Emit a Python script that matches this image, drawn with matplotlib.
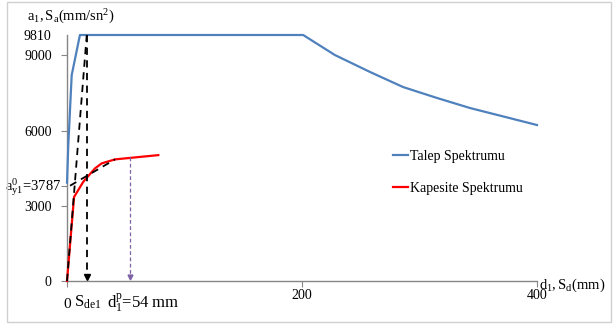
"""
Capacity vs demand spectrum (ADRS format) with bilinear idealization
"""

import matplotlib.pyplot as plt
from matplotlib.patches import Rectangle

# ----------------------------------------------------------
# Data
# ----------------------------------------------------------
talep_x = [0, 1.1, 4, 11, 201, 228, 258, 286, 315, 343, 400]
talep_y = [3920, 5420, 8210, 9810, 9810, 9011, 8333, 7735, 7297, 6898, 6220]

kapasite_x = [0, 6.0, 13.9, 23.8, 29.5, 40.9, 77.7]
kapasite_y = [0, 3350, 3960, 4490, 4690, 4850, 5020]

# bilinear idealization
elastic_x = [0, 16.8]
elastic_y = [0, 9810]
plastic_x = [2.6, 40.9]
plastic_y = [3800, 4850]

sde1 = 16.8          # mm
sa_max = 9810
dp1 = 54             # mm
dp1_sa = 4940
ay1 = 3787

yticks = [0, 3000, ay1, 6000, 9000, sa_max]
ytick_labels = ['0', '3000', '', '6000', '9000', '9810']
xticks = [0, 200, 400]

blue = '#4F81BD'
red = '#FF0000'
purple = '#7E62A6'
gray = '#868686'

plt.rcParams['font.family'] = ['Liberation Serif', 'DejaVu Serif']
plt.rcParams['mathtext.fontset'] = 'stix'

# ----------------------------------------------------------
# Figure
# ----------------------------------------------------------
fig = plt.figure(figsize=(6.13, 3.29), dpi=100)
fig.patches.append(Rectangle((7 / 613, 1 - 322 / 329), 604 / 613, 320 / 329,
                             transform=fig.transFigure, fill=False,
                             edgecolor='#D0D0D0', linewidth=1))

ax = fig.add_axes([67 / 613, 1 - 281 / 329, 470 / 613, 246 / 329])

ax.plot(talep_x, talep_y, color=blue, lw=1.6, label='Talep Spektrumu',
        clip_on=False, zorder=3)
ax.plot(kapasite_x, kapasite_y, color=red, lw=1.6, label='Kapesite Spektrumu',
        clip_on=False, zorder=3)

ax.plot(elastic_x, elastic_y, color='black', lw=1.3, ls=(0, (4, 3)), zorder=4,
        clip_on=False)
ax.plot(plastic_x, plastic_y, color='black', lw=1.3, ls=(0, (4, 3)), zorder=4)
ax.plot([sde1, sde1], [sa_max, 150], color='black', lw=1.3, ls=(0, (4, 3)),
        zorder=4, clip_on=False)
ax.plot(sde1, 150, marker='v', color='black', ms=4, zorder=5)

ax.plot([dp1, dp1], [dp1_sa, 150], color=purple, lw=0.9, ls=(0, (3, 2)), zorder=4)
ax.plot(dp1, 150, marker='v', color=purple, ms=3.5, zorder=5)

ax.set_xlim(0, 400)
ax.set_ylim(0, sa_max)

for side in ['top', 'right']:
    ax.spines[side].set_visible(False)
for side in ['left', 'bottom']:
    ax.spines[side].set_color(gray)
    ax.spines[side].set_linewidth(1)

ax.set_yticks(yticks)
ax.set_yticklabels(ytick_labels)
ax.set_xticks(xticks)
ax.set_xticklabels(['', '200', '400'])
ax.tick_params(axis='y', direction='out', length=4, color=gray, pad=7,
               labelsize=10)
ax.tick_params(axis='x', direction='out', length=4, color=gray, pad=2,
               labelsize=10)
ax.yaxis.get_major_ticks()[-1].tick1line.set_visible(False)

# yield acceleration label, closer to the axis than the other tick labels
ax.annotate(r'$\mathregular{a^0_{y1}}$=3787', xy=(0, ay1), xytext=(-4, -1),
            textcoords='offset points', ha='right', va='center', fontsize=10.5)

# extra labels along the x-axis
ax.annotate('0', xy=(0, 0), xytext=(0, -12), textcoords='offset points',
            ha='center', va='top', fontsize=11)
ax.annotate(r'$\mathregular{S_{de1}}$', xy=(sde1, 0), xytext=(1, -9),
            textcoords='offset points', ha='center', va='top', fontsize=12)
ax.annotate(r'$\mathregular{d^p_1}$=54 mm', xy=(dp1, 0), xytext=(9, -7),
            textcoords='offset points', ha='center', va='top', fontsize=12)

# axis titles
fig.text(27 / 613, 1 - 17 / 329, r'$\mathregular{a_1, S_a(mm/sn^2)}$',
         ha='left', va='center', fontsize=10.5)
fig.text(539 / 613, 1 - 285 / 329, r'$\mathregular{d_1, S_d(mm)}$',
         ha='left', va='center', fontsize=10.5)

ax.legend(loc='upper left', bbox_to_anchor=(393 / 613, 1 - 150 / 329),
          bbox_transform=fig.transFigure, frameon=False, fontsize=10,
          handlelength=1.1, handletextpad=0.1, labelspacing=1.35,
          borderaxespad=0, borderpad=0)

fig.savefig('out.png', dpi=100)
